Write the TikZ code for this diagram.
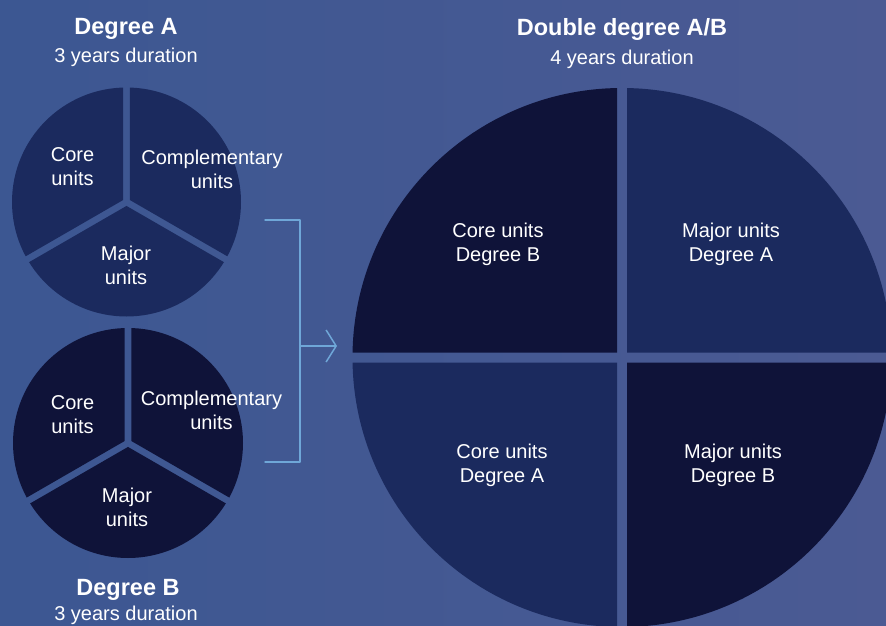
\documentclass[tikz,border=0pt]{standalone}
\usepackage{fontspec}
\setmainfont{Liberation Sans}
\usetikzlibrary{arrows.meta,calc}
\definecolor{bgleft}{HTML}{3C5792}
\definecolor{bgright}{HTML}{4B5A93}
\definecolor{unitlight}{HTML}{1B2A5E}
\definecolor{unitdark}{HTML}{0F1339}
\definecolor{bracketblue}{HTML}{6FA7D8}
\tikzset{
	lbl/.style={text=white,align=center,font=\fontsize{20}{24}\selectfont},
	title/.style={text=white,anchor=base,font=\bfseries\fontsize{23.5}{28}\selectfont},
	subtitle/.style={text=white,anchor=base,font=\fontsize{20}{24}\selectfont},
	bracket/.style={draw=bracketblue,line width=1.5pt},
}
% one slice of a pie: centre, radius, from angle, to angle, half gap, colour
\newcommand\slice[6]{%
	\begin{scope}
		\clip (#1) circle (#2);
		\path (#1) ++({(#3+#4)/2}:{#5/sin((#4-#3)/2)}) coordinate (p);
		\fill[#6] (p) -- +(#3:2*#2) -- +({(#3+#4)/2}:3*#2) -- +(#4:2*#2) -- cycle;
	\end{scope}}
\begin{document}
\begin{tikzpicture}[x=1pt,y=1pt,line join=round,line cap=round]
	\useasboundingbox (0,0) rectangle (886,625);
	\clip (0,0) rectangle (886,625);
	\shade[left color=bgleft,right color=bgright] (0,0) rectangle (886,625);
	\coordinate (pieA) at (126.5,423);
	\coordinate (pieB) at (128,182);
	\coordinate (pieAB) at (622,267.5);
	\foreach \a/\b in {90/210,210/330,330/450}
		\slice{pieA}{114.5}{\a}{\b}{3.4}{unitlight};
	\foreach \a/\b in {90/210,210/330,330/450}
		\slice{pieB}{115}{\a}{\b}{3.4}{unitdark};
	\foreach \a/\b/\c in {0/90/unitlight,90/180/unitdark,180/270/unitlight,270/360/unitdark}
		\slice{pieAB}{269.5}{\a}{\b}{5}{\c};
	\node[title] (titleA) at (126,590) {Degree A};
	\node[subtitle] (durA) at (126,562) {3 years duration};
	\node[title] (titleAB) at (622,589) {Double degree A/B};
	\node[subtitle] (durAB) at (622,560) {4 years duration};
	\node[title] (titleB) at (128,30) {Degree B};
	\node[subtitle] (durB) at (126,5) {3 years duration};
	\node[lbl] (coreA) at (72.5,458.5) {Core\\units};
	\node[lbl] (complA) at (212,456) {Complementary\\units};
	\node[lbl] (majorA) at (126,360) {Major\\units};
	\node[lbl] (coreB) at (72.5,210.5) {Core\\units};
	\node[lbl] (complB) at (211.5,215) {Complementary\\units};
	\node[lbl] (majorB) at (127,118) {Major\\units};
	\node[lbl] (coreDB) at (498,381) {Core units\\Degree B};
	\node[lbl] (majorDA) at (731,381) {Major units\\Degree A};
	\node[lbl] (coreDA) at (502,160) {Core units\\Degree A};
	\node[lbl] (majorDB) at (733,160) {Major units\\Degree B};
	\coordinate (bt) at (265,405);
	\coordinate (btc) at (300,405);
	\coordinate (bb) at (265,163);
	\coordinate (bbc) at (300,163);
	\coordinate (bm) at (300,279);
	\coordinate (tip) at (337,279);
	\draw[bracket] (bt) -- (btc) -- (bbc) -- (bb);
	\draw[bracket,-{Straight Barb[length=10pt,width=32pt]}] (bm) -- (tip);
\end{tikzpicture}
\end{document}
